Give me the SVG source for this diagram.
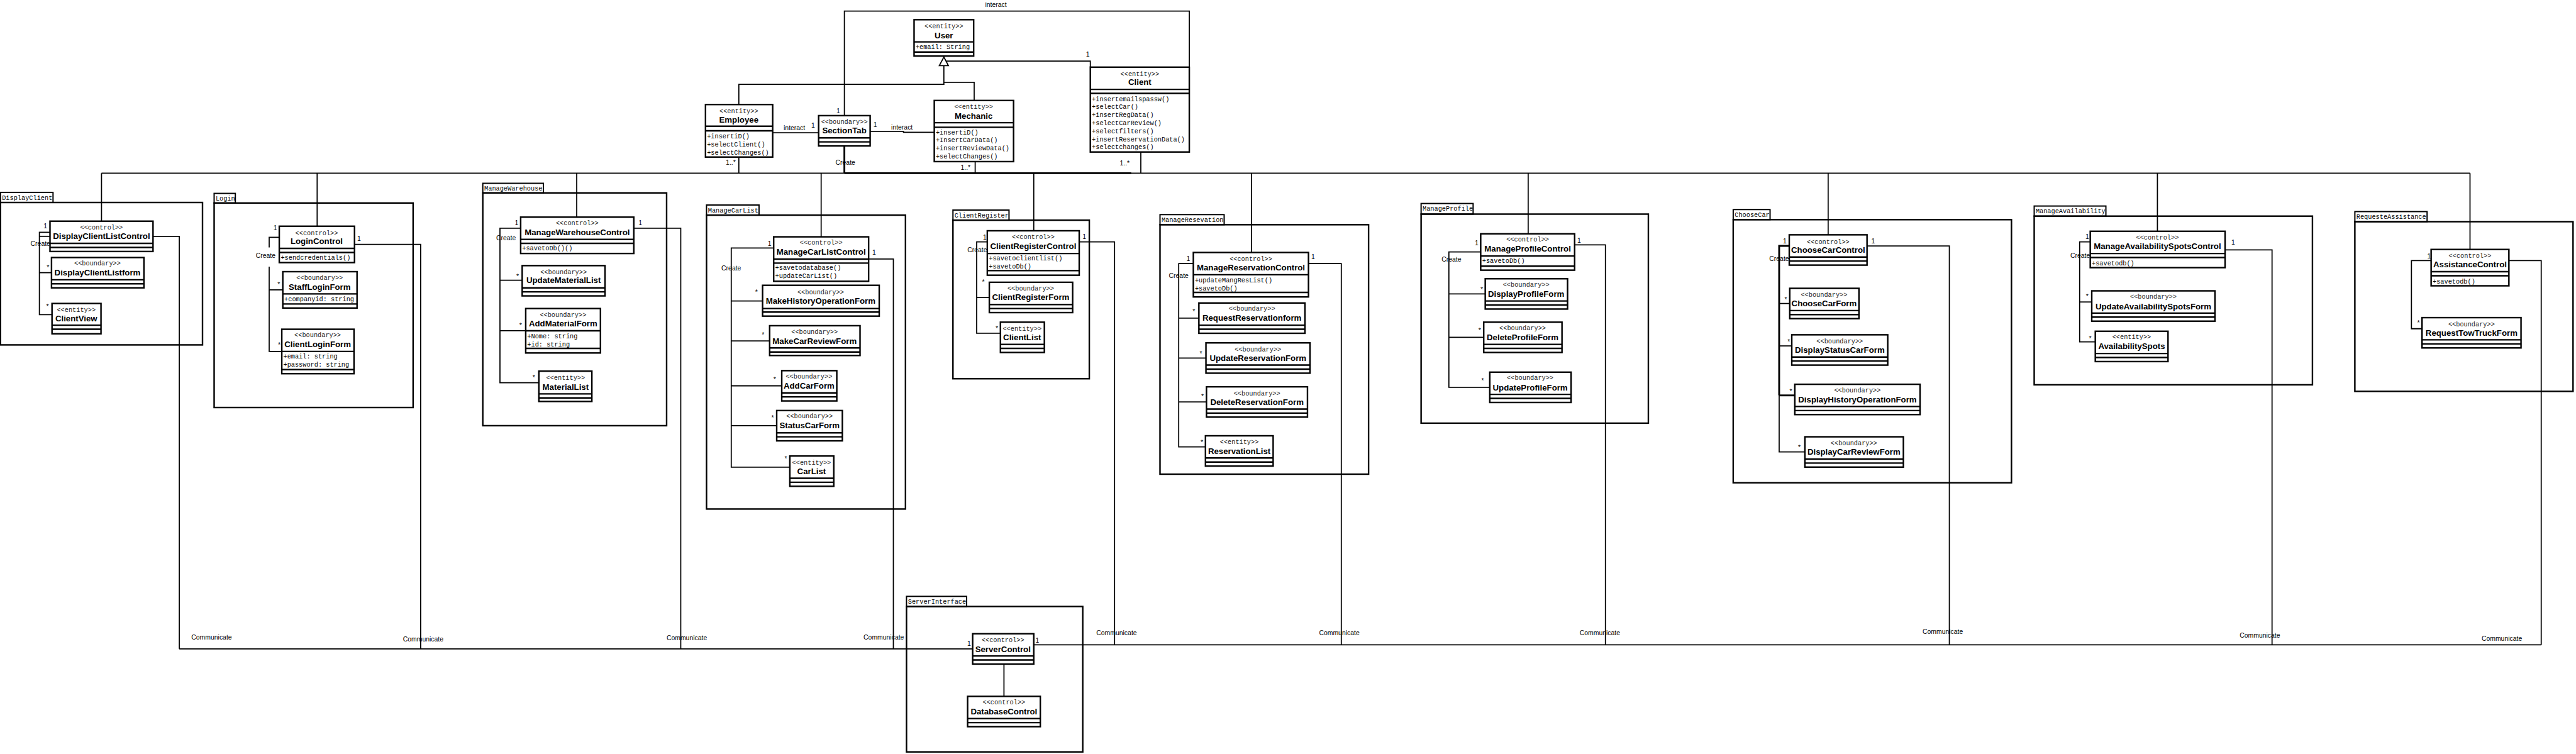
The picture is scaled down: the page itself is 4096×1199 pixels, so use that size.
<svg xmlns="http://www.w3.org/2000/svg" width="4096" height="1199" viewBox="0 0 4096 1199">
<style>
.bg{fill:#fff}
.box{fill:#fff;stroke:#000;stroke-width:3}
.sep{stroke:#000;stroke-width:3}
.pk{fill:none;stroke:#000;stroke-width:3}
.tab{fill:#fff;stroke:#000;stroke-width:2.5}
.ln{fill:none;stroke:#000;stroke-width:2.2}
.thk{fill:none;stroke:#000;stroke-width:3.6}
.st{font-family:"Liberation Mono","Courier New",monospace;font-size:12.8px;fill:#222;text-anchor:middle;dominant-baseline:central}
.nm{font-family:"Liberation Sans",Arial,sans-serif;font-weight:bold;font-size:16.5px;fill:#000;text-anchor:middle;dominant-baseline:central}
.op{font-family:"Liberation Mono","Courier New",monospace;font-size:12.8px;fill:#000;dominant-baseline:central}
.pl{font-family:"Liberation Mono","Courier New",monospace;font-size:12.8px;fill:#000;dominant-baseline:central}
.lb{font-family:"Liberation Sans",Arial,sans-serif;font-size:13px;fill:#000;text-anchor:middle;dominant-baseline:central}
.gen{fill:#fff;stroke:#000;stroke-width:2.2}
</style>
<rect class="bg" x="0" y="0" width="4096" height="1199"/>
<g transform="scale(0.803)">

<!-- packages -->
<g id="pkg-DisplayClient"><rect class="tab" x="1" y="381" width="104" height="20"/><rect class="pk" x="1" y="401" width="400" height="282"/><text class="pl" x="4" y="392">DisplayClient</text></g>
<g id="pkg-Login"><rect class="tab" x="424" y="383" width="42" height="19"/><rect class="pk" x="424" y="402" width="394" height="405"/><text class="pl" x="427" y="393">Login</text></g>
<g id="pkg-ManageWarehouse"><rect class="tab" x="956" y="363" width="120" height="19"/><rect class="pk" x="956" y="382" width="364" height="461"/><text class="pl" x="959" y="373">ManageWarehouse</text></g>
<g id="pkg-ManageCarList"><rect class="tab" x="1399" y="406" width="104" height="20"/><rect class="pk" x="1399" y="426" width="394" height="582"/><text class="pl" x="1402" y="417">ManageCarList</text></g>
<g id="pkg-ClientRegister"><rect class="tab" x="1887" y="416" width="111" height="20"/><rect class="pk" x="1887" y="436" width="270" height="314"/><text class="pl" x="1890" y="427">ClientRegister</text></g>
<g id="pkg-ManageResevation"><rect class="tab" x="2297" y="425" width="127" height="20"/><rect class="pk" x="2297" y="445" width="413" height="494"/><text class="pl" x="2300" y="436">ManageResevation</text></g>
<g id="pkg-ManageProfile"><rect class="tab" x="2814" y="403" width="103" height="21"/><rect class="pk" x="2814" y="424" width="450" height="414"/><text class="pl" x="2817" y="414">ManageProfile</text></g>
<g id="pkg-ChooseCar"><rect class="tab" x="3432" y="415" width="73" height="20"/><rect class="pk" x="3432" y="435" width="551" height="521"/><text class="pl" x="3435" y="426">ChooseCar</text></g>
<g id="pkg-ManageAvailability"><rect class="tab" x="4028" y="408" width="142" height="20"/><rect class="pk" x="4028" y="428" width="551" height="334"/><text class="pl" x="4031" y="419">ManageAvailability</text></g>
<g id="pkg-RequesteAssistance"><rect class="tab" x="4663" y="419" width="143" height="20"/><rect class="pk" x="4663" y="439" width="432" height="336"/><text class="pl" x="4666" y="430">RequesteAssistance</text></g>
<g id="pkg-ServerInterface"><rect class="tab" x="1795" y="1181" width="119" height="20"/><rect class="pk" x="1795" y="1201" width="349" height="288"/><text class="pl" x="1798" y="1192">ServerInterface</text></g>

<!-- connectors -->
<g id="connectors">
<polyline class="ln" points="1672,229 1672,22 2355,22 2355,133"/>
<polyline class="ln" points="1869,130 1869,167 1463,167 1463,207"/>
<polyline class="ln" points="1869,163 1929,163 1929,199"/>
<polyline class="ln" points="1874,121 2159,121 2159,133"/>
<polygon class="gen" points="1869,113 1860,130 1878,130"/>
<line class="ln" x1="1530" y1="263" x2="1621" y2="263"/>
<polyline class="ln" points="1723,260 1789,260 1789,262 1850,262"/>
<line class="ln" x1="1463" y1="311" x2="1463" y2="343"/>
<line class="thk" x1="1672" y1="289" x2="1672" y2="343"/>
<line class="ln" x1="1931" y1="320" x2="1931" y2="343"/>
<line class="ln" x1="2259" y1="301" x2="2259" y2="343"/>
<line class="ln" x1="201" y1="343" x2="4891" y2="343"/>
<line class="thk" x1="1672" y1="343" x2="2240" y2="343"/>
<line class="ln" x1="201" y1="343" x2="201" y2="438"/>
<line class="ln" x1="628" y1="343" x2="628" y2="448"/>
<line class="ln" x1="1142" y1="343" x2="1142" y2="430"/>
<line class="ln" x1="1626" y1="343" x2="1626" y2="469"/>
<line class="ln" x1="2047" y1="343" x2="2047" y2="457"/>
<line class="ln" x1="2478" y1="343" x2="2478" y2="500"/>
<line class="ln" x1="3026" y1="343" x2="3026" y2="463"/>
<line class="ln" x1="3620" y1="343" x2="3620" y2="465"/>
<line class="ln" x1="4272" y1="343" x2="4272" y2="458"/>
<line class="ln" x1="4891" y1="343" x2="4891" y2="494"/>

<polyline class="ln" points="99,460 78,460 78,623 103,623"/>
<line class="ln" x1="78" y1="468" x2="99" y2="468"/>
<line class="ln" x1="78" y1="540" x2="102" y2="540"/>
<polyline class="ln" points="553,470 533,470 533,490"/>
<polyline class="ln" points="533,528 533,696 558,696"/>
<line class="ln" x1="533" y1="574" x2="560" y2="574"/>
<polyline class="ln" points="1031,452 990,452 990,758 1067,758"/>
<line class="ln" x1="990" y1="555" x2="1034" y2="555"/>
<line class="ln" x1="990" y1="655" x2="1041" y2="655"/>
<polyline class="ln" points="1532,491 1448,491 1448,925 1564,925"/>
<line class="ln" x1="1448" y1="596" x2="1510" y2="596"/>
<line class="ln" x1="1448" y1="675" x2="1524" y2="675"/>
<line class="ln" x1="1448" y1="764" x2="1548" y2="764"/>
<line class="ln" x1="1448" y1="843" x2="1538" y2="843"/>
<polyline class="ln" points="1955,479 1934,479 1934,660 1981,660"/>
<line class="ln" x1="1934" y1="589" x2="1959" y2="589"/>
<polyline class="ln" points="2363,522 2334,522 2334,885 2387,885"/>
<line class="ln" x1="2334" y1="630" x2="2374" y2="630"/>
<line class="ln" x1="2334" y1="709" x2="2388" y2="709"/>
<line class="ln" x1="2334" y1="796" x2="2389" y2="796"/>
<polyline class="ln" points="2932,499 2869,499 2869,767 2950,767"/>
<line class="ln" x1="2869" y1="582" x2="2941" y2="582"/>
<line class="ln" x1="2869" y1="668" x2="2938" y2="668"/>
<polyline class="thk" points="3543,487 3523,487 3523,783"/>
<polyline class="ln" points="3523,783 3523,895 3574,895"/>
<line class="ln" x1="3523" y1="601" x2="3544" y2="601"/>
<line class="ln" x1="3523" y1="685" x2="3548" y2="685"/>
<line class="thk" x1="3523" y1="783" x2="3554" y2="783"/>
<polyline class="ln" points="4139,479 4118,479 4118,677 4149,677"/>
<line class="ln" x1="4118" y1="598" x2="4142" y2="598"/>
<polyline class="ln" points="4814,516 4775,516 4775,651 4796,651"/>

<polyline class="ln" points="303,468 355,468 355,1285"/>
<polyline class="ln" points="702,484 833,484 833,1285"/>
<polyline class="ln" points="1255,452 1348,452 1348,1285"/>
<polyline class="ln" points="1720,513 1769,513 1769,1285"/>
<line class="ln" x1="355" y1="1285" x2="1926" y2="1285"/>
<polyline class="ln" points="2137,479 2207,479 2207,1277"/>
<polyline class="ln" points="2591,522 2656,522 2656,1277"/>
<polyline class="ln" points="3118,485 3179,485 3179,1277"/>
<polyline class="ln" points="3697,487 3860,487 3860,1277"/>
<polyline class="ln" points="4406,495 4499,495 4499,1277"/>
<polyline class="ln" points="4968,516 5032,516 5032,1277"/>
<line class="ln" x1="2047" y1="1277" x2="5032" y2="1277"/>
<line class="ln" x1="1988" y1="1315" x2="1988" y2="1379"/>

<text class="lb" x="1972" y="9">interact</text>
<text class="lb" x="1573" y="253">interact</text>
<text class="lb" x="1786" y="252">interact</text>
<text class="lb" x="1610" y="248">1</text>
<text class="lb" x="1733" y="247">1</text>
<text class="lb" x="1660" y="220">1</text>
<text class="lb" x="2154" y="108">1</text>
<text class="lb" x="1447" y="322">1..*</text>
<text class="lb" x="1674" y="322">Create</text>
<text class="lb" x="1912" y="332">1..*</text>
<text class="lb" x="2227" y="323">1..*</text>

<text class="lb" x="90" y="448">1</text>
<text class="lb" x="80" y="483">Create</text>
<text class="lb" x="95" y="530">*</text>
<text class="lb" x="94" y="607">*</text>
<text class="lb" x="545" y="452">1</text>
<text class="lb" x="711" y="473">1</text>
<text class="lb" x="526" y="506">Create</text>
<text class="lb" x="552" y="564">*</text>
<text class="lb" x="553" y="683">*</text>
<text class="lb" x="1023" y="442">1</text>
<text class="lb" x="1268" y="442">1</text>
<text class="lb" x="1002" y="471">Create</text>
<text class="lb" x="1025" y="547">*</text>
<text class="lb" x="1031" y="644">*</text>
<text class="lb" x="1057" y="748">*</text>
<text class="lb" x="1524" y="483">1</text>
<text class="lb" x="1731" y="500">1</text>
<text class="lb" x="1448" y="531">Create</text>
<text class="lb" x="1498" y="579">*</text>
<text class="lb" x="1511" y="663">*</text>
<text class="lb" x="1534" y="752">*</text>
<text class="lb" x="1530" y="828">*</text>
<text class="lb" x="1556" y="909">*</text>
<text class="lb" x="1950" y="470">1</text>
<text class="lb" x="2147" y="469">1</text>
<text class="lb" x="1935" y="495">Create</text>
<text class="lb" x="1947" y="558">*</text>
<text class="lb" x="1974" y="651">*</text>
<text class="lb" x="2353" y="513">1</text>
<text class="lb" x="2600" y="509">1</text>
<text class="lb" x="2334" y="546">Create</text>
<text class="lb" x="2364" y="617">*</text>
<text class="lb" x="2378" y="701">*</text>
<text class="lb" x="2381" y="785">*</text>
<text class="lb" x="2380" y="876">*</text>
<text class="lb" x="2924" y="481">1</text>
<text class="lb" x="3127" y="476">1</text>
<text class="lb" x="2874" y="514">Create</text>
<text class="lb" x="2934" y="574">*</text>
<text class="lb" x="2930" y="654">*</text>
<text class="lb" x="2936" y="754">*</text>
<text class="lb" x="3534" y="477">1</text>
<text class="lb" x="3709" y="477">1</text>
<text class="lb" x="3523" y="512">Create</text>
<text class="lb" x="3536" y="593">*</text>
<text class="lb" x="3542" y="677">*</text>
<text class="lb" x="3546" y="775">*</text>
<text class="lb" x="3563" y="886">*</text>
<text class="lb" x="4133" y="469">1</text>
<text class="lb" x="4422" y="480">1</text>
<text class="lb" x="4119" y="506">Create</text>
<text class="lb" x="4133" y="587">*</text>
<text class="lb" x="4139" y="670">*</text>
<text class="lb" x="4810" y="507">1</text>
<text class="lb" x="4789" y="639">*</text>
<text class="lb" x="1919" y="1274">1</text>
<text class="lb" x="2054" y="1268">1</text>

<text class="lb" x="419" y="1262">Communicate</text>
<text class="lb" x="838" y="1266">Communicate</text>
<text class="lb" x="1360" y="1263">Communicate</text>
<text class="lb" x="1750" y="1262">Communicate</text>
<text class="lb" x="2211" y="1254">Communicate</text>
<text class="lb" x="2652" y="1253">Communicate</text>
<text class="lb" x="3168" y="1254">Communicate</text>
<text class="lb" x="3847" y="1251">Communicate</text>
<text class="lb" x="4475" y="1259">Communicate</text>
<text class="lb" x="4954" y="1265">Communicate</text>
</g>

<!-- classes -->
<g id="User"><rect class="box" x="1810" y="39" width="118" height="72"/><line class="sep" x1="1810" y1="83" x2="1928" y2="83"/><line class="sep" x1="1810" y1="103" x2="1928" y2="103"/><text class="st" x="1869" y="52">&lt;&lt;entity&gt;&gt;</text><text class="nm" x="1869" y="70">User</text><text class="op" x="1813" y="94">+email: String</text></g>
<g id="Employee"><rect class="box" x="1397" y="207" width="133" height="104"/><line class="sep" x1="1397" y1="250" x2="1530" y2="250"/><line class="sep" x1="1397" y1="259" x2="1530" y2="259"/><text class="st" x="1463" y="220">&lt;&lt;entity&gt;&gt;</text><text class="nm" x="1463" y="237">Employee</text><text class="op" x="1400" y="270">+insertiD()</text><text class="op" x="1400" y="286">+selectClient()</text><text class="op" x="1400" y="302">+selectChanges()</text></g>
<g id="SectionTab"><rect class="box" x="1621" y="229" width="102" height="60"/><line class="sep" x1="1621" y1="273" x2="1723" y2="273"/><line class="sep" x1="1621" y1="281" x2="1723" y2="281"/><text class="st" x="1672" y="242">&lt;&lt;boundary&gt;&gt;</text><text class="nm" x="1672" y="259">SectionTab</text></g>
<g id="Mechanic"><rect class="box" x="1850" y="199" width="157" height="121"/><line class="sep" x1="1850" y1="243" x2="2007" y2="243"/><line class="sep" x1="1850" y1="252" x2="2007" y2="252"/><text class="st" x="1928" y="212">&lt;&lt;entity&gt;&gt;</text><text class="nm" x="1928" y="230">Mechanic</text><text class="op" x="1853" y="263">+insertiD()</text><text class="op" x="1853" y="278">+InsertCarData()</text><text class="op" x="1853" y="294">+insertReviewData()</text><text class="op" x="1853" y="310">+selectChanges()</text></g>
<g id="Client"><rect class="box" x="2159" y="133" width="196" height="168"/><line class="sep" x1="2159" y1="177" x2="2355" y2="177"/><line class="sep" x1="2159" y1="185" x2="2355" y2="185"/><text class="st" x="2257" y="147">&lt;&lt;entity&gt;&gt;</text><text class="nm" x="2257" y="163">Client</text><text class="op" x="2162" y="197">+insertemailspassw()</text><text class="op" x="2162" y="212">+selectCar()</text><text class="op" x="2162" y="228">+insertRegData()</text><text class="op" x="2162" y="244">+selectCarReview()</text><text class="op" x="2162" y="260">+selectfilters()</text><text class="op" x="2162" y="276">+insertReservationData()</text><text class="op" x="2162" y="292">+selectchanges()</text></g>

<g id="DisplayClientListControl"><rect class="box" x="99" y="438" width="204" height="60"/><line class="sep" x1="99" y1="482" x2="303" y2="482"/><line class="sep" x1="99" y1="490" x2="303" y2="490"/><text class="st" x="201" y="451">&lt;&lt;control&gt;&gt;</text><text class="nm" x="201" y="468">DisplayClientListControl</text></g>
<g id="DisplayClientListform"><rect class="box" x="102" y="510" width="183" height="60"/><line class="sep" x1="102" y1="554" x2="285" y2="554"/><line class="sep" x1="102" y1="562" x2="285" y2="562"/><text class="st" x="193" y="522">&lt;&lt;boundary&gt;&gt;</text><text class="nm" x="193" y="540">DisplayClientListform</text></g>
<g id="ClientView"><rect class="box" x="103" y="601" width="97" height="60"/><line class="sep" x1="103" y1="644" x2="200" y2="644"/><line class="sep" x1="103" y1="652" x2="200" y2="652"/><text class="st" x="151" y="614">&lt;&lt;entity&gt;&gt;</text><text class="nm" x="151" y="631">ClientView</text></g>

<g id="LoginControl"><rect class="box" x="553" y="448" width="149" height="72"/><line class="sep" x1="553" y1="492" x2="702" y2="492"/><line class="sep" x1="553" y1="500" x2="702" y2="500"/><text class="st" x="627" y="462">&lt;&lt;control&gt;&gt;</text><text class="nm" x="627" y="478">LoginControl</text><text class="op" x="556" y="511">+sendcredentials()</text></g>
<g id="StaffLoginForm"><rect class="box" x="560" y="538" width="147" height="72"/><line class="sep" x1="560" y1="582" x2="707" y2="582"/><line class="sep" x1="560" y1="602" x2="707" y2="602"/><text class="st" x="633" y="551">&lt;&lt;boundary&gt;&gt;</text><text class="nm" x="633" y="568">StaffLoginForm</text><text class="op" x="563" y="593">+companyid: string</text></g>
<g id="ClientLoginForm"><rect class="box" x="558" y="652" width="143" height="88"/><line class="sep" x1="558" y1="696" x2="701" y2="696"/><line class="sep" x1="558" y1="732" x2="701" y2="732"/><text class="st" x="629" y="664">&lt;&lt;boundary&gt;&gt;</text><text class="nm" x="629" y="682">ClientLoginForm</text><text class="op" x="561" y="706">+email: string</text><text class="op" x="561" y="722">+password: string</text></g>

<g id="ManageWarehouseControl"><rect class="box" x="1031" y="430" width="224" height="72"/><line class="sep" x1="1031" y1="474" x2="1255" y2="474"/><line class="sep" x1="1031" y1="482" x2="1255" y2="482"/><text class="st" x="1143" y="442">&lt;&lt;control&gt;&gt;</text><text class="nm" x="1143" y="460">ManageWarehouseControl</text><text class="op" x="1034" y="492">+savetoDb()()</text></g>
<g id="UpdateMaterialList"><rect class="box" x="1034" y="526" width="164" height="60"/><line class="sep" x1="1034" y1="570" x2="1198" y2="570"/><line class="sep" x1="1034" y1="578" x2="1198" y2="578"/><text class="st" x="1116" y="539">&lt;&lt;boundary&gt;&gt;</text><text class="nm" x="1116" y="555">UpdateMaterialList</text></g>
<g id="AddMaterialForm"><rect class="box" x="1041" y="611" width="148" height="88"/><line class="sep" x1="1041" y1="655" x2="1189" y2="655"/><line class="sep" x1="1041" y1="690" x2="1189" y2="690"/><text class="st" x="1115" y="624">&lt;&lt;boundary&gt;&gt;</text><text class="nm" x="1115" y="641">AddMaterialForm</text><text class="op" x="1044" y="666">+Nome: string</text><text class="op" x="1044" y="683">+id: string</text></g>
<g id="MaterialList"><rect class="box" x="1067" y="735" width="105" height="60"/><line class="sep" x1="1067" y1="780" x2="1172" y2="780"/><line class="sep" x1="1067" y1="788" x2="1172" y2="788"/><text class="st" x="1120" y="748">&lt;&lt;entity&gt;&gt;</text><text class="nm" x="1120" y="766">MaterialList</text></g>

<g id="ManageCarListControl"><rect class="box" x="1532" y="469" width="188" height="88"/><line class="sep" x1="1532" y1="513" x2="1720" y2="513"/><line class="sep" x1="1532" y1="521" x2="1720" y2="521"/><text class="st" x="1626" y="481">&lt;&lt;control&gt;&gt;</text><text class="nm" x="1626" y="499">ManageCarListControl</text><text class="op" x="1535" y="531">+savetodatabase()</text><text class="op" x="1535" y="547">+updateCarList()</text></g>
<g id="MakeHistoryOperationForm"><rect class="box" x="1510" y="565" width="231" height="61"/><line class="sep" x1="1510" y1="611" x2="1741" y2="611"/><line class="sep" x1="1510" y1="618" x2="1741" y2="618"/><text class="st" x="1625" y="579">&lt;&lt;boundary&gt;&gt;</text><text class="nm" x="1625" y="596">MakeHistoryOperationForm</text></g>
<g id="MakeCarReviewForm"><rect class="box" x="1524" y="645" width="179" height="59"/><line class="sep" x1="1524" y1="689" x2="1703" y2="689"/><line class="sep" x1="1524" y1="697" x2="1703" y2="697"/><text class="st" x="1613" y="658">&lt;&lt;boundary&gt;&gt;</text><text class="nm" x="1613" y="675">MakeCarReviewForm</text></g>
<g id="AddCarForm"><rect class="box" x="1548" y="734" width="109" height="60"/><line class="sep" x1="1548" y1="778" x2="1657" y2="778"/><line class="sep" x1="1548" y1="786" x2="1657" y2="786"/><text class="st" x="1602" y="746">&lt;&lt;boundary&gt;&gt;</text><text class="nm" x="1602" y="764">AddCarForm</text></g>
<g id="StatusCarForm"><rect class="box" x="1538" y="813" width="130" height="60"/><line class="sep" x1="1538" y1="857" x2="1668" y2="857"/><line class="sep" x1="1538" y1="865" x2="1668" y2="865"/><text class="st" x="1603" y="825">&lt;&lt;boundary&gt;&gt;</text><text class="nm" x="1603" y="843">StatusCarForm</text></g>
<g id="CarList"><rect class="box" x="1564" y="903" width="87" height="60"/><line class="sep" x1="1564" y1="947" x2="1651" y2="947"/><line class="sep" x1="1564" y1="955" x2="1651" y2="955"/><text class="st" x="1607" y="916">&lt;&lt;entity&gt;&gt;</text><text class="nm" x="1607" y="933">CarList</text></g>

<g id="ClientRegisterControl"><rect class="box" x="1955" y="457" width="182" height="88"/><line class="sep" x1="1955" y1="502" x2="2137" y2="502"/><line class="sep" x1="1955" y1="536" x2="2137" y2="536"/><text class="st" x="2046" y="470">&lt;&lt;control&gt;&gt;</text><text class="nm" x="2046" y="487">ClientRegisterControl</text><text class="op" x="1958" y="512">+savetoclientlist()</text><text class="op" x="1958" y="528">+savetoDb()</text></g>
<g id="ClientRegisterForm"><rect class="box" x="1959" y="559" width="165" height="60"/><line class="sep" x1="1959" y1="603" x2="2124" y2="603"/><line class="sep" x1="1959" y1="611" x2="2124" y2="611"/><text class="st" x="2041" y="571">&lt;&lt;boundary&gt;&gt;</text><text class="nm" x="2041" y="589">ClientRegisterForm</text></g>
<g id="ClientList"><rect class="box" x="1981" y="638" width="87" height="60"/><line class="sep" x1="1981" y1="682" x2="2068" y2="682"/><line class="sep" x1="1981" y1="690" x2="2068" y2="690"/><text class="st" x="2024" y="651">&lt;&lt;entity&gt;&gt;</text><text class="nm" x="2024" y="668">ClientList</text></g>

<g id="ManageReservationControl"><rect class="box" x="2363" y="500" width="228" height="88"/><line class="sep" x1="2363" y1="544" x2="2591" y2="544"/><line class="sep" x1="2363" y1="579" x2="2591" y2="579"/><text class="st" x="2477" y="513">&lt;&lt;control&gt;&gt;</text><text class="nm" x="2477" y="530">ManageReservationControl</text><text class="op" x="2366" y="555">+updateMangResList()</text><text class="op" x="2366" y="571">+savetoDb()</text></g>
<g id="RequestReservationform"><rect class="box" x="2374" y="600" width="210" height="60"/><line class="sep" x1="2374" y1="644" x2="2584" y2="644"/><line class="sep" x1="2374" y1="652" x2="2584" y2="652"/><text class="st" x="2479" y="612">&lt;&lt;boundary&gt;&gt;</text><text class="nm" x="2479" y="630">RequestReservationform</text></g>
<g id="UpdateReservationForm"><rect class="box" x="2388" y="679" width="206" height="60"/><line class="sep" x1="2388" y1="723" x2="2594" y2="723"/><line class="sep" x1="2388" y1="731" x2="2594" y2="731"/><text class="st" x="2491" y="692">&lt;&lt;boundary&gt;&gt;</text><text class="nm" x="2491" y="709">UpdateReservationForm</text></g>
<g id="DeleteReservationForm"><rect class="box" x="2389" y="766" width="200" height="60"/><line class="sep" x1="2389" y1="810" x2="2589" y2="810"/><line class="sep" x1="2389" y1="818" x2="2589" y2="818"/><text class="st" x="2489" y="779">&lt;&lt;boundary&gt;&gt;</text><text class="nm" x="2489" y="796">DeleteReservationForm</text></g>
<g id="ReservationList"><rect class="box" x="2387" y="863" width="134" height="60"/><line class="sep" x1="2387" y1="907" x2="2521" y2="907"/><line class="sep" x1="2387" y1="915" x2="2521" y2="915"/><text class="st" x="2454" y="876">&lt;&lt;entity&gt;&gt;</text><text class="nm" x="2454" y="894">ReservationList</text></g>

<g id="ManageProfileControl"><rect class="box" x="2932" y="463" width="186" height="72"/><line class="sep" x1="2932" y1="507" x2="3118" y2="507"/><line class="sep" x1="2932" y1="527" x2="3118" y2="527"/><text class="st" x="3025" y="475">&lt;&lt;control&gt;&gt;</text><text class="nm" x="3025" y="493">ManageProfileControl</text><text class="op" x="2935" y="517">+savetoDb()</text></g>
<g id="DisplayProfileForm"><rect class="box" x="2941" y="552" width="163" height="60"/><line class="sep" x1="2941" y1="596" x2="3104" y2="596"/><line class="sep" x1="2941" y1="604" x2="3104" y2="604"/><text class="st" x="3022" y="564">&lt;&lt;boundary&gt;&gt;</text><text class="nm" x="3022" y="582">DisplayProfileForm</text></g>
<g id="DeleteProfileForm"><rect class="box" x="2938" y="638" width="155" height="60"/><line class="sep" x1="2938" y1="682" x2="3093" y2="682"/><line class="sep" x1="2938" y1="690" x2="3093" y2="690"/><text class="st" x="3015" y="650">&lt;&lt;boundary&gt;&gt;</text><text class="nm" x="3015" y="668">DeleteProfileForm</text></g>
<g id="UpdateProfileForm"><rect class="box" x="2950" y="737" width="161" height="60"/><line class="sep" x1="2950" y1="781" x2="3111" y2="781"/><line class="sep" x1="2950" y1="789" x2="3111" y2="789"/><text class="st" x="3030" y="749">&lt;&lt;boundary&gt;&gt;</text><text class="nm" x="3030" y="768">UpdateProfileForm</text></g>

<g id="ChooseCarControl"><rect class="box" x="3543" y="465" width="154" height="60"/><line class="sep" x1="3543" y1="509" x2="3697" y2="509"/><line class="sep" x1="3543" y1="517" x2="3697" y2="517"/><text class="st" x="3620" y="479">&lt;&lt;control&gt;&gt;</text><text class="nm" x="3620" y="495">ChooseCarControl</text></g>
<g id="ChooseCarForm"><rect class="box" x="3544" y="571" width="137" height="60"/><line class="sep" x1="3544" y1="615" x2="3681" y2="615"/><line class="sep" x1="3544" y1="623" x2="3681" y2="623"/><text class="st" x="3612" y="584">&lt;&lt;boundary&gt;&gt;</text><text class="nm" x="3612" y="601">ChooseCarForm</text></g>
<g id="DisplayStatusCarForm"><rect class="box" x="3548" y="663" width="190" height="60"/><line class="sep" x1="3548" y1="707" x2="3738" y2="707"/><line class="sep" x1="3548" y1="715" x2="3738" y2="715"/><text class="st" x="3643" y="676">&lt;&lt;boundary&gt;&gt;</text><text class="nm" x="3643" y="693">DisplayStatusCarForm</text></g>
<g id="DisplayHistoryOperationForm"><rect class="box" x="3554" y="761" width="248" height="60"/><line class="sep" x1="3554" y1="805" x2="3802" y2="805"/><line class="sep" x1="3554" y1="813" x2="3802" y2="813"/><text class="st" x="3678" y="773">&lt;&lt;boundary&gt;&gt;</text><text class="nm" x="3678" y="791">DisplayHistoryOperationForm</text></g>
<g id="DisplayCarReviewForm"><rect class="box" x="3574" y="865" width="195" height="60"/><line class="sep" x1="3574" y1="909" x2="3769" y2="909"/><line class="sep" x1="3574" y1="917" x2="3769" y2="917"/><text class="st" x="3671" y="878">&lt;&lt;boundary&gt;&gt;</text><text class="nm" x="3671" y="895">DisplayCarReviewForm</text></g>

<g id="ManageAvailabilitySpotsControl"><rect class="box" x="4139" y="458" width="267" height="72"/><line class="sep" x1="4139" y1="502" x2="4406" y2="502"/><line class="sep" x1="4139" y1="510" x2="4406" y2="510"/><text class="st" x="4272" y="471">&lt;&lt;control&gt;&gt;</text><text class="nm" x="4272" y="488">ManageAvailabilitySpotsControl</text><text class="op" x="4142" y="522">+savetodb()</text></g>
<g id="UpdateAvailabilitySpotsForm"><rect class="box" x="4142" y="576" width="244" height="60"/><line class="sep" x1="4142" y1="620" x2="4386" y2="620"/><line class="sep" x1="4142" y1="628" x2="4386" y2="628"/><text class="st" x="4264" y="588">&lt;&lt;boundary&gt;&gt;</text><text class="nm" x="4264" y="607">UpdateAvailabilitySpotsForm</text></g>
<g id="AvailabilitySpots"><rect class="box" x="4149" y="656" width="144" height="60"/><line class="sep" x1="4149" y1="700" x2="4293" y2="700"/><line class="sep" x1="4149" y1="708" x2="4293" y2="708"/><text class="st" x="4221" y="668">&lt;&lt;entity&gt;&gt;</text><text class="nm" x="4221" y="686">AvailabilitySpots</text></g>

<g id="AssistanceControl"><rect class="box" x="4814" y="494" width="154" height="72"/><line class="sep" x1="4814" y1="538" x2="4968" y2="538"/><line class="sep" x1="4814" y1="546" x2="4968" y2="546"/><text class="st" x="4891" y="507">&lt;&lt;control&gt;&gt;</text><text class="nm" x="4891" y="524">AssistanceControl</text><text class="op" x="4817" y="558">+savetodb()</text></g>
<g id="RequestTowTruckForm"><rect class="box" x="4796" y="629" width="196" height="60"/><line class="sep" x1="4796" y1="673" x2="4992" y2="673"/><line class="sep" x1="4796" y1="681" x2="4992" y2="681"/><text class="st" x="4894" y="642">&lt;&lt;boundary&gt;&gt;</text><text class="nm" x="4894" y="659">RequestTowTruckForm</text></g>

<g id="ServerControl"><rect class="box" x="1926" y="1255" width="121" height="60"/><line class="sep" x1="1926" y1="1299" x2="2047" y2="1299"/><line class="sep" x1="1926" y1="1307" x2="2047" y2="1307"/><text class="st" x="1986" y="1268">&lt;&lt;control&gt;&gt;</text><text class="nm" x="1986" y="1286">ServerControl</text></g>
<g id="DatabaseControl"><rect class="box" x="1916" y="1379" width="144" height="60"/><line class="sep" x1="1916" y1="1423" x2="2060" y2="1423"/><line class="sep" x1="1916" y1="1431" x2="2060" y2="1431"/><text class="st" x="1988" y="1391">&lt;&lt;control&gt;&gt;</text><text class="nm" x="1988" y="1409">DatabaseControl</text></g>
</g>
</svg>
